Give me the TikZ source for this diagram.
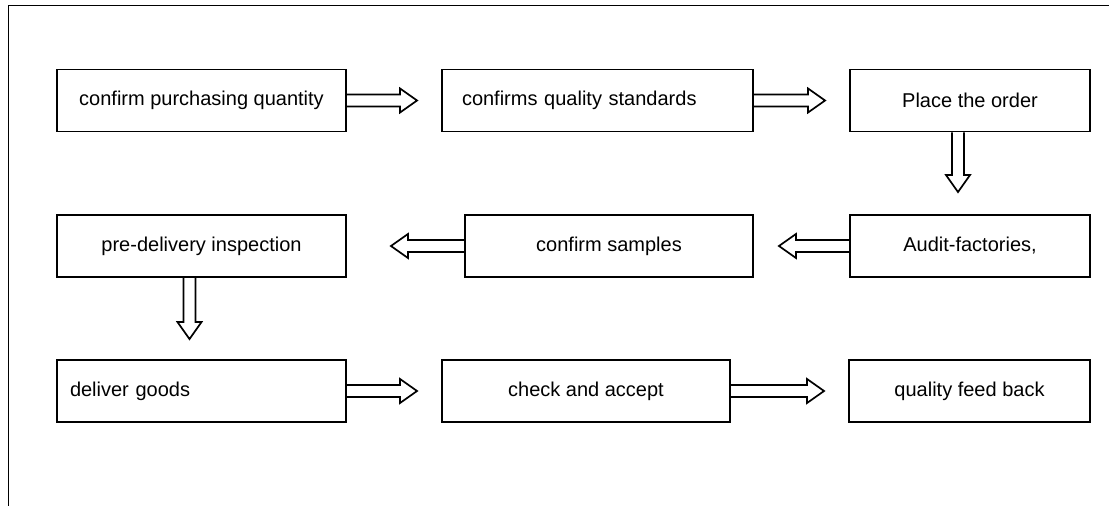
\documentclass[tikz,border=0pt]{standalone}
\usepackage{fontspec}
\setmainfont{Liberation Sans}
\usepackage{tikz}
\usetikzlibrary{calc}

% hollow block arrow from #1 to the tip #2
\newcommand{\flowarrow}[2]{%
  \draw[flowarr] let \p1=(#1), \p2=(#2),
    \n1={atan2(\y2-\y1,\x2-\x1)}, \n2={veclen(\x2-\x1,\y2-\y1)} in
    [shift={(\p1)}, rotate=\n1]
    (0pt,6pt) -- ({\n2-17pt},6pt) -- ({\n2-17pt},12pt) -- ({\n2*1pt},0pt)
    -- ({\n2-17pt},-12pt) -- ({\n2-17pt},-6pt) -- (0pt,-6pt);
}

\begin{document}
\begin{tikzpicture}[x=1pt,y=-1pt,
  box/.style={draw,line width=1.9pt,minimum height=62pt,inner sep=0pt,
    font=\fontsize{20}{24}\selectfont},
  flowarr/.style={line width=1.7pt,line join=miter}]

\useasboundingbox (0,0) rectangle (1109,506);

% Frame
\draw[line width=1.9pt] (8.5,506) -- (8.5,5.5) -- (1109,5.5);

% First row
\node[box,minimum width=289pt] (quantity) at (201.5,100.5) {confirm purchasing quantity};
\node[box,text width=271pt,inner xsep=20pt,align=left] (standards) at (597.5,100.5) {confirms quality standards};
\node[box,minimum width=240pt] (order) at (970,100.5) {Place the order};

% Second row
\node[box,minimum width=289pt] (inspect) at (201.5,246) {pre-delivery inspection};
\node[box,minimum width=288pt] (samples) at (609,246) {confirm samples};
\node[box,minimum width=240pt] (audit) at (970,246) {Audit-factories,};

% Third row
\node[box,text width=263pt,inner xsep=13pt,align=left] (deliver) at (201.5,391) {deliver goods};
\node[box,minimum width=288pt] (accept) at (586,391) {check and accept};
\node[box,minimum width=241pt] (feedback) at (969.5,391) {quality feed back};

% Arrows
\flowarrow{quantity.east}{$(standards.west)+(-24,0)$}
\flowarrow{standards.east}{$(order.west)+(-24,0)$}
\flowarrow{$(order.south)+(-12,0)$}{$(audit.north)+(-12,-22)$}
\flowarrow{audit.west}{$(samples.east)+(25,0)$}
\flowarrow{samples.west}{$(inspect.east)+(44,0)$}
\flowarrow{$(inspect.south)+(-12,0)$}{$(deliver.north)+(-12,-20)$}
\flowarrow{deliver.east}{$(accept.west)+(-24,0)$}
\flowarrow{accept.east}{$(feedback.west)+(-24,0)$}

\end{tikzpicture}
\end{document}
